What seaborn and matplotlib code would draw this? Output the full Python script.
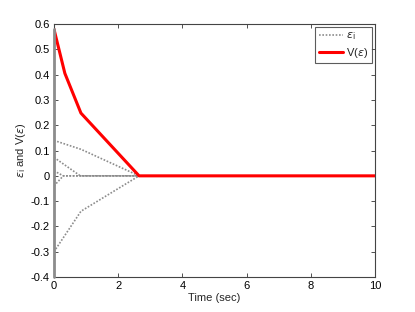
import seaborn as sns
import pandas as pd
from matplotlib import pyplot as plt
from matplotlib.lines import Line2D

# error trajectories (piecewise)
t_e1 = [0, 0.84, 2.65, 10]
e1 = [0.14, 0.105, 0, 0]
t_e2 = [0, 0.82, 2.65, 10]
e2 = [0.073, 0, 0, 0]
t_e3 = [0, 0.29, 2.65, 10]
e3 = [0.02, 0, 0, 0]
t_e4 = [0, 0.29, 2.65, 10]
e4 = [-0.04, 0, 0, 0]
t_e5 = [0, 0.84, 2.65, 10]
e5 = [-0.30, -0.14, 0, 0]

# Lyapunov function V
t_v = [0, 0.34, 0.84, 2.65, 10]
v = [0.58, 0.405, 0.248, 0, 0]

sns.set_theme(style="ticks")
plt.rcParams['font.family'] = ['Liberation Sans', 'DejaVu Sans']

fig, ax = plt.subplots(figsize=(4.15, 3.12), dpi=100)

rows = []
for k, (tt, ee) in enumerate([(t_e1, e1), (t_e2, e2), (t_e3, e3), (t_e4, e4), (t_e5, e5)]):
    for a, b in zip(tt, ee):
        rows.append({'t': a, 'e': b, 'agent': k})
df = pd.DataFrame(rows)

dots = (0, (1, 1))
sns.lineplot(data=df, x='t', y='e', units='agent', estimator=None, color='#8c8c8c',
             linestyle=dots, linewidth=1.2, ax=ax, legend=False)
ax.plot([0, 0], [-0.4, 0.58], color='#8c8c8c', linewidth=2.0, zorder=3, clip_on=False)
sns.lineplot(x=t_v, y=v, color='red', linewidth=2.2, ax=ax)

handles = [Line2D([], [], color='#8c8c8c', linestyle=dots, linewidth=1.2),
           Line2D([], [], color='red', linewidth=2.2)]
leg = ax.legend(handles, [r'$\epsilon_{\rm i}$', r'V($\epsilon$)'], loc='upper right',
                fontsize=8, frameon=True, fancybox=False, handlelength=2.2,
                borderaxespad=0.3, handletextpad=0.3, borderpad=0.3, labelspacing=0.3)
leg.get_frame().set_edgecolor('#333333')
leg.get_frame().set_linewidth(0.8)

ax.set_xlim(0, 10)
ax.set_ylim(-0.4, 0.6)
ax.set_xticks([0, 2, 4, 6, 8, 10])
ax.set_yticks([-0.4, -0.3, -0.2, -0.1, 0, 0.1, 0.2, 0.3, 0.4, 0.5, 0.6])
ax.set_yticklabels(['-0.4', '-0.3', '-0.2', '-0.1', '0', '0.1', '0.2', '0.3', '0.4', '0.5', '0.6'])
ax.tick_params(direction='in', length=3, width=0.6, labelsize=8, top=True, right=True,
               colors='#333333', labelcolor='black', pad=3)
for s in ax.spines.values():
    s.set_color('#444444')
    s.set_linewidth(0.8)
    s.set_visible(True)

ax.set_xlabel('Time (sec)', fontsize=8, labelpad=1)
ax.set_ylabel(r'$\epsilon_{\rm i}$ and V($\epsilon$)', fontsize=8, labelpad=2)

fig.subplots_adjust(left=0.13, right=0.904, top=0.923, bottom=0.112)
fig.savefig('out.png', dpi=100)
